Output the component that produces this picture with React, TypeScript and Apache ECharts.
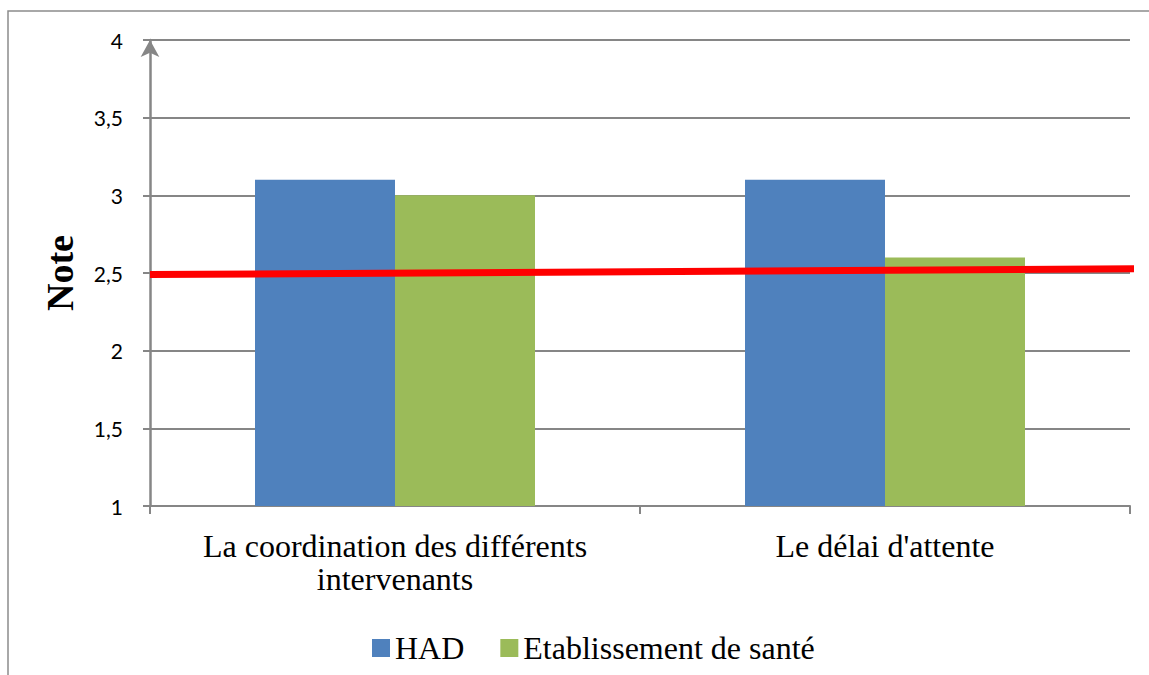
import React, { useEffect, useRef } from "react";
import * as echarts from "echarts";

const categories = ["La coordination des différents\nintervenants", "Le délai d'attente"];
const hadValues = [3.1, 3.1];
const etabValues = [3.0, 2.6];
const seuilLine = [[0, 2.49], [1.01, 2.527]];
const yTicks = { min: 1, max: 4, interval: 0.5 };

export default function App() {
  const ref = useRef<HTMLDivElement>(null);
  useEffect(() => {
    if (!ref.current) return;
    const chart = echarts.init(ref.current, null, { renderer: "svg" });
    const serif = "'Liberation Serif', 'Times New Roman', serif";
    const sans = "Lato, Carlito, Calibri, sans-serif";
    chart.setOption({
      animation: false,
      backgroundColor: "#ffffff",
      grid: { left: 150, right: 19, top: 40, bottom: 169, containLabel: false },
      legend: {
        left: 367,
        top: 627,
        itemWidth: 18,
        itemHeight: 18,
        itemGap: 36,
        icon: "rect",
        textStyle: { fontFamily: serif, fontSize: 32, color: "#000" },
        data: ["HAD", "Etablissement de santé"],
      },
      graphic: [
        {
          type: "rect",
          shape: { x: 8, y: 11, width: 1300, height: 800 },
          style: { fill: "none", stroke: "#8c8c8c", lineWidth: 1.5 },
          silent: true,
        },
      ],
      xAxis: [
        {
          type: "category",
          data: categories,
          boundaryGap: true,
          axisLine: { show: true, lineStyle: { color: "#868686", width: 2 } },
          axisTick: { show: true, alignWithLabel: false, length: 8, lineStyle: { color: "#868686", width: 2 } },
          axisLabel: {
            margin: 23,
            fontFamily: serif,
            fontSize: 32,
            lineHeight: 33,
            color: "#000",
            interval: 0,
          },
          splitLine: { show: false },
        },
        {
          type: "value",
          min: 0,
          max: 1,
          show: false,
        },
      ],
      yAxis: {
        type: "value",
        min: yTicks.min,
        max: yTicks.max,
        interval: yTicks.interval,
        name: "Note",
        nameLocation: "middle",
        nameRotate: 90,
        nameGap: 71,
        nameTextStyle: { fontFamily: serif, fontSize: 38, fontWeight: "bold", color: "#000" },
        axisLine: {
          show: true,
          symbol: ["none", "arrow"],
          symbolSize: [14, 17],
          lineStyle: { color: "#868686", width: 2.5 },
        },
        axisTick: { show: true, length: 7, lineStyle: { color: "#868686", width: 2 } },
        axisLabel: {
          margin: 27,
          fontFamily: sans,
          fontSize: 21,
          color: "#000",
          formatter: (v: number) => String(v).replace(".", ","),
        },
        splitLine: { show: true, lineStyle: { color: "#868686", width: 2 } },
      },
      series: [
        {
          name: "HAD",
          type: "bar",
          data: hadValues,
          barWidth: 140,
          barGap: "0%",
          itemStyle: { color: "#4f81bd" },
        },
        {
          name: "Etablissement de santé",
          type: "bar",
          data: etabValues,
          barWidth: 140,
          barGap: "0%",
          itemStyle: { color: "#9bbb59" },
        },
        {
          name: "seuil",
          type: "line",
          xAxisIndex: 1,
          data: seuilLine,
          symbol: "none",
          clip: false,
          lineStyle: { color: "#ff0000", width: 7 },
          z: 5,
        },
      ],
    });
    return () => chart.dispose();
  }, []);
  return (
    <div
      ref={ref}
      style={{ position: "fixed", left: 0, top: 0, width: 1149, height: 675 }}
    />
  );
}
